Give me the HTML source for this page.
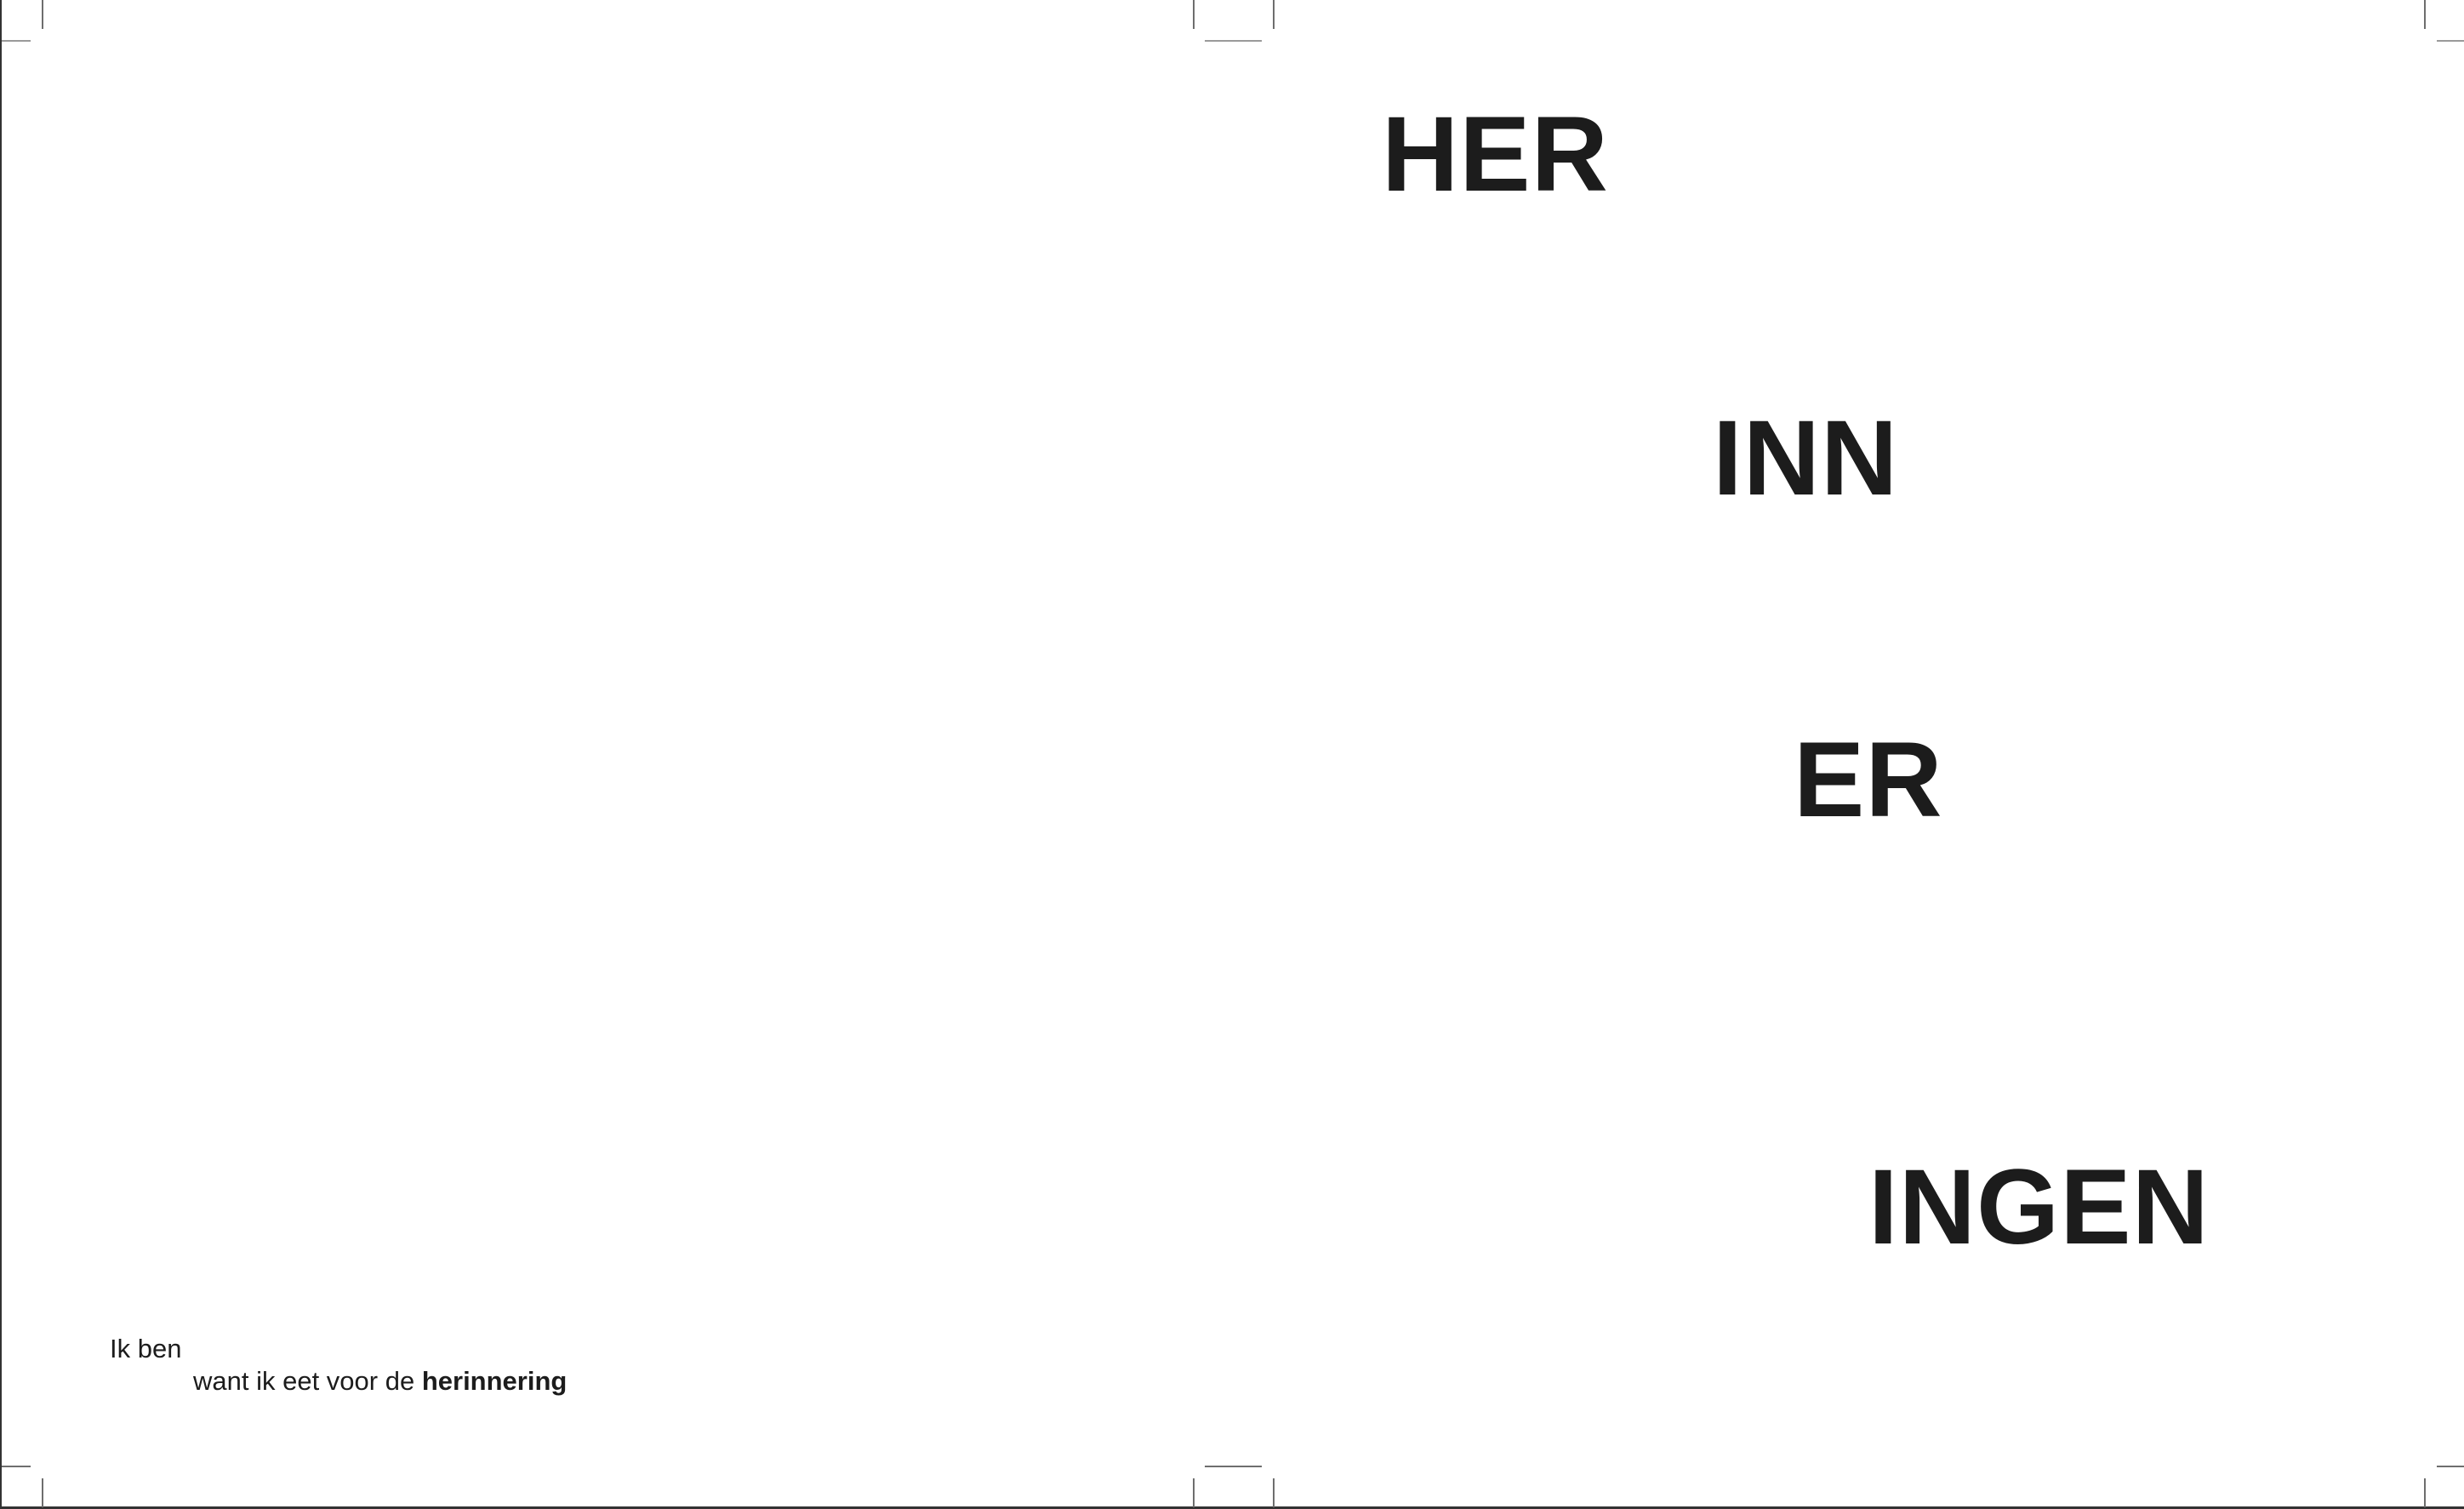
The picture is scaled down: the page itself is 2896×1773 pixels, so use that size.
<!DOCTYPE html>
<html>
<head>
<meta charset="utf-8">
<style>
  html,body{margin:0;padding:0;}
  body{width:2896px;height:1773px;position:relative;background:#fff;overflow:hidden;
       font-family:"Liberation Sans",Arial,sans-serif;color:#1c1c1c;}
  .big{position:absolute;font-weight:bold;font-size:125px;line-height:125px;letter-spacing:1px;white-space:nowrap;}
  .small{position:absolute;font-size:31px;line-height:31px;white-space:nowrap;letter-spacing:0;}
  .m{position:absolute;background:#6e6e6e;}
  .h{height:2px;background:#9a9a9a;}
  .v{width:2px;}
</style>
</head>
<body>
  <div style="position:absolute;left:0;top:0;width:2px;height:1773px;background:#333;"></div>
  <div style="position:absolute;left:0;top:1770px;width:2896px;height:3px;background:#333;"></div>

  <div class="m h" style="left:2px;top:47px;width:34px;"></div>
  <div class="m v" style="left:49px;top:0;height:34px;"></div>
  <div class="m v" style="left:1402px;top:0;height:34px;"></div>
  <div class="m v" style="left:1496px;top:0;height:34px;"></div>
  <div class="m h" style="left:1416px;top:47px;width:67px;"></div>
  <div class="m v" style="left:2849px;top:0;height:34px;"></div>
  <div class="m h" style="left:2864px;top:47px;width:32px;"></div>
  <div class="m h" style="left:2px;top:1722px;width:34px;background:#6e6e6e;"></div>
  <div class="m v" style="left:49px;top:1737px;height:34px;"></div>
  <div class="m v" style="left:1402px;top:1737px;height:34px;"></div>
  <div class="m v" style="left:1496px;top:1737px;height:34px;"></div>
  <div class="m h" style="left:1416px;top:1722px;width:67px;background:#6e6e6e;"></div>
  <div class="m v" style="left:2849px;top:1737px;height:34px;"></div>
  <div class="m h" style="left:2864px;top:1722px;width:32px;background:#6e6e6e;"></div>

  <div class="big" style="left:1624px;top:119px;">HER</div>
  <div class="big" style="left:2013px;top:476px;">INN</div>
  <div class="big" style="left:2108px;top:854px;">ER</div>
  <div class="big" style="left:2196px;top:1356px;">INGEN</div>

  <div class="small" style="left:129px;top:1569px;">Ik ben</div>
  <div class="small" style="left:227px;top:1607px;">want ik eet voor de <b>herinnering</b></div>
</body>
</html>
